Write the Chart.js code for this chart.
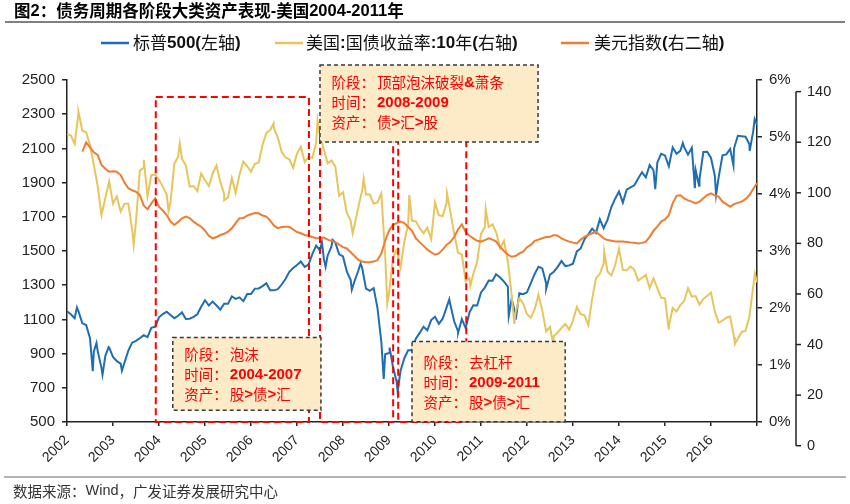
<!DOCTYPE html>
<html lang="zh">
<head>
<meta charset="UTF-8">
<title>债务周期各阶段大类资产表现-美国</title>
<script src="https://cdn.jsdelivr.net/npm/chart.js"></script>
<style>
  html, body { margin: 0; padding: 0; background: #fff; }
</style>
</head>
<body>
<canvas id="c" width="850" height="504"></canvas>
<script>
// ---- data ----
const yearLabels = ['2002','2003','2004','2005','2006','2007','2008','2009','2010','2011','2012','2013','2014','2015','2016'];

// 月初数值，2002-01 ... 2017-01
const spx = [
  1148, 1130, 1107, 1147, 1077, 1067, 990, 912, 916, 815, 886, 936,
  880, 856, 841, 848, 917, 964, 975, 990, 1008, 996, 1051, 1058,
  1112, 1131, 1145, 1126, 1107, 1121, 1141, 1102, 1104, 1115, 1130, 1174,
  1212, 1181, 1204, 1181, 1157, 1192, 1191, 1234, 1220, 1229, 1207, 1249,
  1248, 1280, 1281, 1295, 1311, 1270, 1270, 1277, 1304, 1336, 1378, 1401,
  1418, 1438, 1407, 1421, 1482, 1531, 1503, 1455, 1474, 1527, 1549, 1481,
  1468, 1379, 1331, 1323, 1386, 1400, 1280, 1267, 1283, 1166, 969, 896,
  903, 826, 735, 798, 873, 919, 919, 987, 1021, 1057, 1036, 1096,
  1115, 1074, 1104, 1169, 1187, 1089, 1031, 1102, 1049, 1141, 1183, 1181,
  1258, 1286, 1327, 1326, 1364, 1345, 1321, 1292, 1219, 1131, 1253, 1247,
  1258, 1312, 1366, 1408, 1398, 1310, 1362, 1379, 1407, 1441, 1412, 1416,
  1426, 1498, 1515, 1569, 1598, 1631, 1606, 1686, 1633, 1682, 1757, 1806,
  1848, 1783, 1859, 1872, 1884, 1924, 1960, 1931, 2003, 1972, 2018, 2068,
  2059, 1995, 2105, 2068, 2086, 2107, 2063, 2104, 1972, 1920, 2079, 2080,
  2044, 1940, 1932, 2060, 2065, 2097, 2099, 2174, 2171, 2168, 2126, 2199,
  2239
];
const spxTurns = [
  ['2002-03-19', 1170], ['2002-07-23', 797], ['2002-08-22', 962], ['2002-10-09', 777],
  ['2002-11-27', 938], ['2003-03-11', 800], ['2007-07-16', 1553], ['2007-08-15', 1407],
  ['2007-10-09', 1565], ['2008-03-10', 1273], ['2008-05-19', 1427], ['2008-11-20', 752],
  ['2009-01-06', 935], ['2009-03-09', 677], ['2010-04-23', 1217], ['2010-07-02', 1022],
  ['2011-04-29', 1364], ['2011-08-08', 1119], ['2011-10-03', 1099], ['2012-06-01', 1278],
  ['2014-10-15', 1862], ['2015-05-21', 2131], ['2015-08-25', 1867], ['2015-09-28', 1881],
  ['2016-02-11', 1829], ['2016-06-27', 2000], ['2016-11-04', 2085], ['2016-12-13', 2271]
];

const ust10y = [
  5.05, 5.03, 4.88, 5.42, 5.11, 5.08, 4.86, 4.51, 4.14, 3.63, 3.93, 4.22,
  3.83, 3.96, 3.69, 3.83, 3.83, 3.37, 3.52, 4.41, 4.46, 3.96, 4.33, 4.34,
  4.25, 4.13, 3.99, 3.86, 4.53, 4.66, 4.62, 4.50, 4.13, 4.14, 4.05, 4.36,
  4.24, 4.14, 4.36, 4.50, 4.21, 4.00, 3.94, 4.28, 4.02, 4.34, 4.57, 4.49,
  4.39, 4.53, 4.55, 4.86, 5.07, 5.12, 5.15, 4.99, 4.74, 4.64, 4.61, 4.46,
  4.71, 4.83, 4.56, 4.65, 4.63, 4.90, 5.03, 4.78, 4.54, 4.59, 4.48, 3.97,
  4.03, 3.67, 3.53, 3.45, 3.77, 4.06, 3.99, 3.99, 3.83, 3.85, 4.01, 2.93,
  2.25, 2.87, 3.02, 2.71, 3.16, 3.47, 3.53, 3.52, 3.40, 3.31, 3.41, 3.21,
  3.85, 3.63, 3.61, 3.84, 3.69, 3.31, 2.97, 2.94, 2.47, 2.52, 2.60, 2.81,
  3.30, 3.42, 3.42, 3.47, 3.32, 3.05, 3.18, 2.82, 2.23, 1.92, 2.17, 2.08,
  1.89, 1.83, 1.98, 2.23, 1.95, 1.59, 1.67, 1.51, 1.57, 1.65, 1.72, 1.62,
  1.78, 2.02, 1.89, 1.87, 1.70, 2.16, 2.52, 2.60, 2.78, 2.64, 2.57, 2.75,
  3.04, 2.67, 2.66, 2.73, 2.67, 2.48, 2.53, 2.58, 2.35, 2.52, 2.35, 2.18,
  2.17, 1.68, 2.00, 1.94, 2.05, 2.12, 2.35, 2.20, 2.21, 2.06, 2.16, 2.21,
  2.27, 1.94, 1.74, 1.78, 1.83, 1.85, 1.49, 1.46, 1.58, 1.60, 1.84, 2.37,
  2.45
];
const ustTurns = [
  ['2002-04-01', 5.44], ['2003-06-13', 3.11], ['2003-09-02', 4.60], ['2004-03-16', 3.70],
  ['2004-06-14', 4.89], ['2005-06-01', 3.89], ['2006-06-28', 5.24], ['2007-06-12', 5.29],
  ['2008-03-17', 3.31], ['2008-06-13', 4.27], ['2008-12-18', 2.08], ['2009-06-10', 3.98],
  ['2010-04-05', 4.01], ['2010-10-08', 2.39], ['2011-02-08', 3.74], ['2011-09-22', 1.72],
  ['2012-07-24', 1.39], ['2013-09-05', 2.99], ['2015-01-30', 1.64], ['2016-07-08', 1.37],
  ['2016-12-15', 2.60]
];

const dxy = [
  null, null, null, null, 116.3, 120, 118, 116, 115, 111, 109.5, 108.3,
  108.5, 108.3, 107, 104, 101.8, 101, 100.4, 99.1, 95, 93.5, 95.8, 97.8,
  94.5, 93, 91.2, 88.6, 87.3, 88.5, 89.9, 90.6, 90, 88.6, 87.5, 86.6,
  85, 83, 82, 82.5, 83.3, 83.8, 84.6, 86, 88, 89.9, 90, 91,
  91.5, 92, 91.9, 91, 90.6, 89, 87, 86, 86.5, 86.6, 86.6, 85.5,
  84.5, 84, 83.3, 83, 82.5, 82, 82, 82.3, 81.5, 81, 80.5, 79.5,
  78.5, 78, 76.5, 75, 73.5, 72.8, 72.5, 72.6, 72.8, 73.4, 76, 81,
  85, 87.3, 88, 88.6, 88, 86.5, 85, 82, 80.5, 79, 77.5, 76.5,
  75.5, 76, 77.5, 79.4, 80.5, 82.5, 85.5, 87.5, 84.5, 83, 82, 81,
  80.7, 81.3, 82, 81.5, 80.7, 78.5, 77, 75.5, 74.7, 75, 76, 76.7,
  78.5, 79.4, 81, 81.5, 82, 82.5, 82.6, 83.3, 83, 82, 81.3, 80.7,
  80.3, 80, 81.5, 82.6, 83.3, 84, 84.6, 83.3, 82, 81.3, 81, 80.7,
  80.7, 80.7, 80.5, 80.3, 80.2, 80, 80.2, 80.7, 82.6, 85, 86.6, 88.6,
  89.5, 91.2, 95.8, 98.8, 99, 97.8, 97, 96.5, 95.8, 96.5, 97.8, 99.1,
  99.8, 99, 98.5, 96.5, 95.5, 94.5, 95.5, 96, 96.5, 97.5, 99, 101.5,
  103.8
];

const seriesNames = ['标普500(左轴)', '美国:国债收益率:10年(右轴)', '美元指数(右二轴)'];
const dxyTicks = [0, 20, 40, 60, 80, 100, 120, 140];

// 标注（x 为年份，y 为左轴数值）
const redRects = [
  [2003.93, 2007.26, 2400],
  [2007.50, 2009.09, 2200],
  [2009.20, 2010.68, 2200]
];
const notes = [
  { x0: 2004.30, x1: 2007.52, top: 994, bottom: 569, dy: 17, lines: [['阶段：', '泡沫'], ['时间：', '2004-2007'], ['资产：', '股>债>汇']] },
  { x0: 2007.50, x1: 2012.24, top: 2588, bottom: 2138, dy: 18, lines: [['阶段：', '顶部泡沫破裂&萧条'], ['时间：', '2008-2009'], ['资产：', '债>汇>股']] },
  { x0: 2009.50, x1: 2012.83, top: 971, bottom: 502, dy: 21, lines: [['阶段：', '去杠杆'], ['时间：', '2009-2011'], ['资产：', '股>债>汇']] }
];

// ---- helpers ----
const blue = '#1f6db2', gold = '#e8c55c', orange = '#ef7d31';
const axisColor = '#222';

const months = [];
for (let y = 2002; y <= 2017; y++) {
  for (let m = 1; m <= 12; m++) {
    if (y === 2017 && m > 1) break;
    months.push(y + '-' + String(m).padStart(2, '0'));
  }
}

function toYear(s) {
  const p = s.split('-').map(Number);
  return p[0] + (p[1] - 1) / 12 + ((p[2] || 1) - 1) / 365;
}

function points(values, turns) {
  const pts = [];
  months.forEach((m, i) => {
    if (values[i] != null) pts.push({ x: toYear(m), y: values[i] });
  });
  (turns || []).forEach(t => pts.push({ x: toYear(t[0]), y: t[1] }));
  return pts.sort((a, b) => a.x - b.x);
}

// 中英文混排：ASCII 用 Liberation Sans，中文用 Noto Sans CJK
function mixed(ctx, text, x, y, o) {
  const runs = text.match(/[\x20-\x7e]+|[^\x20-\x7e]+/g) || [];
  ctx.fillStyle = o.color;
  ctx.textBaseline = 'middle';
  ctx.textAlign = 'left';
  runs.forEach(r => {
    const ascii = /^[\x20-\x7e]/.test(r);
    ctx.font = ascii
      ? `${o.aw} ${o.as}px "Liberation Sans", Arial, sans-serif`
      : `${o.cw} ${o.size}px "Noto Sans CJK SC", sans-serif`;
    ctx.fillText(r, x, y);
    x += ctx.measureText(r).width;
  });
  return x;
}

const decor = {
  id: 'decor',
  afterDraw(chart) {
    const ctx = chart.ctx;
    const sx = chart.scales.x, sy = chart.scales.y, s2 = chart.scales.y2;
    ctx.save();

    // 标题
    mixed(ctx, '图2：债务周期各阶段大类资产表现-美国2004-2011年', 14, 11,
      { size: 16.5, as: 16.5, cw: 'bold', aw: 'bold', color: '#000' });
    ctx.strokeStyle = '#808080';
    ctx.lineWidth = 2;
    ctx.beginPath(); ctx.moveTo(5, 22); ctx.lineTo(845, 22); ctx.stroke();

    // 图例
    const legend = [[101, 133, blue], [275, 306, gold], [561, 594, orange]];
    legend.forEach((l, i) => {
      ctx.strokeStyle = l[2];
      ctx.lineWidth = 2.5;
      ctx.beginPath(); ctx.moveTo(l[0], 43); ctx.lineTo(l[0] + 28, 43); ctx.stroke();
      mixed(ctx, seriesNames[i], l[1], 43, { size: 17, as: 17, cw: 'normal', aw: 'bold', color: '#111' });
    });

    // 右二轴
    const ax = 796;
    ctx.strokeStyle = axisColor;
    ctx.lineWidth = 1.5;
    ctx.beginPath();
    ctx.moveTo(ax, s2.getPixelForValue(dxyTicks[dxyTicks.length - 1]));
    ctx.lineTo(ax, s2.getPixelForValue(dxyTicks[0]));
    ctx.stroke();
    ctx.font = '14.5px "Liberation Sans", Arial, sans-serif';
    ctx.fillStyle = axisColor;
    ctx.textAlign = 'left';
    ctx.textBaseline = 'middle';
    dxyTicks.forEach(v => {
      const py = s2.getPixelForValue(v);
      ctx.beginPath(); ctx.moveTo(ax, py); ctx.lineTo(ax + 5, py); ctx.stroke();
      ctx.fillText(String(v), ax + 11, py);
    });

    // 红色虚线框
    ctx.strokeStyle = '#ff0000';
    ctx.lineWidth = 2;
    ctx.setLineDash([7, 4]);
    redRects.forEach(r => {
      const x0 = sx.getPixelForValue(r[0]), x1 = sx.getPixelForValue(r[1]);
      const y0 = sy.getPixelForValue(r[2]), y1 = sy.getPixelForValue(500);
      ctx.strokeRect(x0, y0, x1 - x0, y1 - y0);
    });

    // 说明框
    notes.forEach(n => {
      const x0 = sx.getPixelForValue(n.x0), x1 = sx.getPixelForValue(n.x1);
      const y0 = sy.getPixelForValue(n.top), y1 = sy.getPixelForValue(n.bottom);
      ctx.setLineDash([]);
      ctx.fillStyle = '#fdebc8';
      ctx.fillRect(x0, y0, x1 - x0, y1 - y0);
      ctx.setLineDash([4, 3]);
      ctx.strokeStyle = '#3a3a3a';
      ctx.lineWidth = 1.5;
      ctx.strokeRect(x0, y0, x1 - x0, y1 - y0);
      n.lines.forEach((ln, k) => {
        const ty = y0 + n.dy + k * 20;
        mixed(ctx, ln[0], x0 + 11.5, ty, { size: 14.5, as: 15, cw: 'normal', aw: 'bold', color: '#ff0000' });
        mixed(ctx, ln[1], x0 + 57, ty, { size: 14.5, as: 15, cw: 'normal', aw: 'bold', color: '#ff0000' });
      });
    });
    ctx.setLineDash([]);

    // 数据来源
    ctx.strokeStyle = '#9a9a9a';
    ctx.lineWidth = 1.5;
    ctx.beginPath(); ctx.moveTo(4, 477); ctx.lineTo(846, 477); ctx.stroke();
    mixed(ctx, '数据来源：Wind，广发证券发展研究中心', 13, 491,
      { size: 14.5, as: 14.5, cw: 'normal', aw: 'normal', color: '#333' });

    ctx.restore();
  }
};

const tickFont = { family: '"Liberation Sans", Arial, sans-serif', size: 15 };

new Chart(document.getElementById('c'), {
  type: 'line',
  data: {
    datasets: [
      { label: seriesNames[0], data: points(spx, spxTurns), yAxisID: 'y', borderColor: blue, order: 3 },
      { label: seriesNames[1], data: points(ust10y, ustTurns), yAxisID: 'y1', borderColor: gold, order: 2 },
      { label: seriesNames[2], data: points(dxy), yAxisID: 'y2', borderColor: orange, order: 1 }
    ]
  },
  options: {
    responsive: false,
    animation: false,
    events: [],
    layout: { padding: { top: 80, left: 0, right: 0, bottom: 0 } },
    elements: {
      line: { borderWidth: 2, tension: 0 },
      point: { radius: 0 }
    },
    plugins: {
      legend: { display: false },
      tooltip: { enabled: false }
    },
    scales: {
      x: {
        type: 'linear',
        min: 2002,
        max: 2017,
        afterFit: s => { s.height = 82; },
        border: { color: axisColor, width: 1.5 },
        grid: { drawOnChartArea: false, tickLength: 4, color: axisColor, lineWidth: 1.5 },
        ticks: {
          stepSize: 1,
          autoSkip: false,
          maxTicksLimit: 30,
          minRotation: 45,
          maxRotation: 45,
          padding: 6,
          color: axisColor,
          font: { family: tickFont.family, size: 14 },
          callback: v => yearLabels[v - 2002] || ''
        }
      },
      y: {
        position: 'left',
        min: 500,
        max: 2500,
        afterFit: s => { s.width = 67; },
        border: { color: axisColor, width: 1.5 },
        grid: { drawOnChartArea: false, tickLength: 5, color: axisColor, lineWidth: 1.5 },
        ticks: { stepSize: 200, maxTicksLimit: 30, padding: 7, color: axisColor, font: tickFont, callback: v => String(v) }
      },
      y1: {
        position: 'right',
        min: 0,
        max: 6,
        afterFit: s => { s.width = 93; },
        border: { color: axisColor, width: 1.5 },
        grid: { drawOnChartArea: false, tickLength: 5, color: axisColor, lineWidth: 1.5 },
        ticks: { stepSize: 1, padding: 7, color: axisColor, font: tickFont, callback: v => v + '%' }
      },
      y2: {
        display: false,
        min: 9.37,
        max: 144.6
      }
    }
  },
  plugins: [decor]
});
</script>
</body>
</html>
